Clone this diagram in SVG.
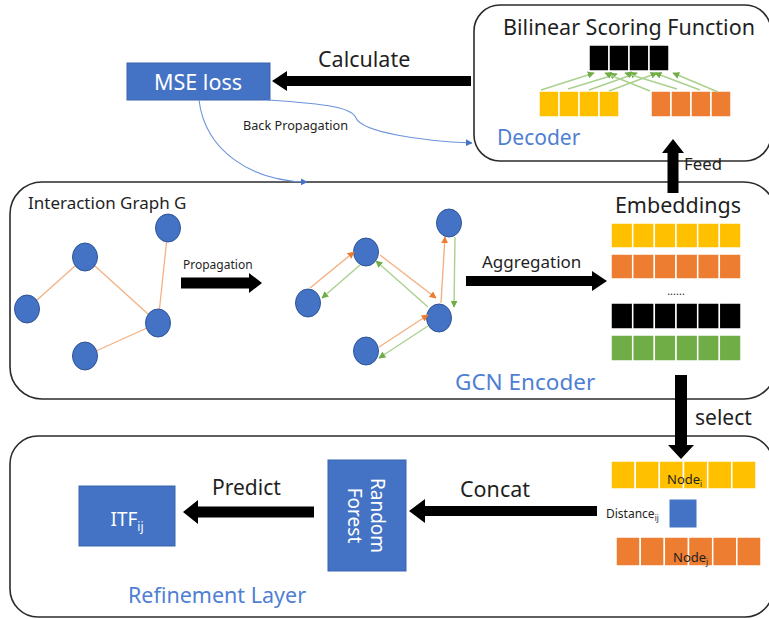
<svg xmlns="http://www.w3.org/2000/svg" width="769" height="619" viewBox="0 0 769 619">
<style>
.frame{fill:none;stroke:#2b2b2b;stroke-width:1.6}
.lbl{font-family:"Noto Sans","Liberation Sans",sans-serif;fill:#1f1f1f}
.blue{font-family:"Noto Sans","Liberation Sans",sans-serif;fill:#4F7FD3}
.wt{font-family:"Noto Sans","Liberation Sans",sans-serif;fill:#ffffff}
.bigarrow{fill:#000}
.node{fill:#4472C4;stroke:#2F5597;stroke-width:1}
.edge{stroke:#F4B183;stroke-width:1.3;fill:none}
.oa{stroke:#F4B183;stroke-width:1.4;fill:none;marker-end:url(#mo)}
.ga{stroke:#A9D18E;stroke-width:1.4;fill:none;marker-end:url(#mg)}
.bl{stroke:#6A94DA;stroke-width:1.1;fill:none;marker-end:url(#mb)}
.y{fill:#FFC000;stroke:#fff;stroke-width:1.5}
.o{fill:#ED7D31;stroke:#fff;stroke-width:1.5}
.k{fill:#000;stroke:#fff;stroke-width:1.5}
.g{fill:#70AD47;stroke:#fff;stroke-width:1.5}
.bx{fill:#4472C4;stroke:#3A64B0;stroke-width:1}
</style>
<defs>
<marker id="mo" viewBox="0 0 10 10" refX="9" refY="5" markerWidth="7" markerHeight="7" orient="auto" markerUnits="userSpaceOnUse"><path d="M0,0 L10,5 L0,10 z" fill="#ED7D31"/></marker>
<marker id="mg" viewBox="0 0 10 10" refX="9" refY="5" markerWidth="7" markerHeight="7" orient="auto" markerUnits="userSpaceOnUse"><path d="M0,0 L10,5 L0,10 z" fill="#70AD47"/></marker>
<marker id="mb" viewBox="0 0 10 10" refX="9" refY="5" markerWidth="7" markerHeight="7" orient="auto" markerUnits="userSpaceOnUse"><path d="M0,0 L10,5 L0,10 z" fill="#4472C4"/></marker>
</defs>
<rect width="769" height="619" fill="#fff"/>

<!-- Decoder -->
<g id="decoder">
<rect class="frame" x="474" y="5" width="297" height="156" rx="26"/>
<text class="lbl" x="629" y="35" font-size="21.5" text-anchor="middle">Bilinear Scoring Function</text>
<g>
<rect class="k" x="589" y="45" width="20" height="26"/><rect class="k" x="609" y="45" width="20" height="26"/><rect class="k" x="629" y="45" width="20" height="26"/><rect class="k" x="649" y="45" width="20" height="26"/>
<rect class="y" x="539" y="91" width="20" height="26"/><rect class="y" x="559" y="91" width="20" height="26"/><rect class="y" x="579" y="91" width="20" height="26"/><rect class="y" x="599" y="91" width="20" height="26"/>
<rect class="o" x="651" y="91" width="20" height="26"/><rect class="o" x="671" y="91" width="20" height="26"/><rect class="o" x="691" y="91" width="20" height="26"/><rect class="o" x="711" y="91" width="20" height="26"/>
</g>
<g>
<path class="ga" d="M541,90 L594,73" stroke-width="1"/>
<path class="ga" d="M568,89 L617,74" stroke-width="1"/>
<path class="ga" d="M589,90 L637,73" stroke-width="1"/>
<path class="ga" d="M609,91 L657,73" stroke-width="1"/>
<path class="ga" d="M718,92 L673,73" stroke-width="1"/>
<path class="ga" d="M700,90 L655,73" stroke-width="1"/>
<path class="ga" d="M677,89 L625,73" stroke-width="1"/>
<path class="ga" d="M650,91 L605,73" stroke-width="1"/>
</g>
<text class="blue" x="497" y="145" font-size="21">Decoder</text>
</g>

<!-- MSE loss -->
<g id="mse">
<rect class="bx" x="127" y="63" width="143" height="37"/>
<text class="wt" x="198" y="89.5" font-size="21.5" text-anchor="middle">MSE loss</text>
</g>

<!-- GCN Encoder -->
<g id="encoder">
<rect class="frame" x="10" y="182" width="766" height="217" rx="32"/>
<text class="lbl" x="28" y="209" font-size="17" fill="#333">Interaction Graph G</text>
<text class="blue" x="455" y="390" font-size="22.5">GCN Encoder</text>
</g>

<g id="graph1">
<line class="edge" x1="27" y1="309" x2="85" y2="257"/>
<line class="edge" x1="85" y1="257" x2="158" y2="323"/>
<line class="edge" x1="158" y1="323" x2="168" y2="228"/>
<line class="edge" x1="158" y1="323" x2="85" y2="356"/>
<ellipse class="node" cx="168" cy="228" rx="12.5" ry="14"/>
<ellipse class="node" cx="85" cy="257" rx="12.5" ry="14"/>
<ellipse class="node" cx="27" cy="309" rx="12.5" ry="14"/>
<ellipse class="node" cx="158" cy="323" rx="12.5" ry="14"/>
<ellipse class="node" cx="85" cy="356" rx="12.5" ry="14"/>
</g>

<g id="graph2">
<ellipse class="node" cx="449" cy="223" rx="12.5" ry="14"/>
<ellipse class="node" cx="366" cy="252" rx="12.5" ry="14"/>
<ellipse class="node" cx="308" cy="303" rx="12.5" ry="14"/>
<ellipse class="node" cx="439" cy="318" rx="12.5" ry="14"/>
<ellipse class="node" cx="366" cy="351" rx="12.5" ry="14"/>
</g>

<!-- Embeddings -->
<g id="embeddings">
<text class="lbl" x="678" y="213" font-size="21.5" text-anchor="middle">Embeddings</text>
<g>
<rect class="y" x="611" y="223" width="21.7" height="25"/><rect class="y" x="632.7" y="223" width="21.7" height="25"/><rect class="y" x="654.3" y="223" width="21.7" height="25"/><rect class="y" x="676" y="223" width="21.7" height="25"/><rect class="y" x="697.7" y="223" width="21.7" height="25"/><rect class="y" x="719.3" y="223" width="21.7" height="25"/>
<rect class="o" x="611" y="254" width="21.7" height="25"/><rect class="o" x="632.7" y="254" width="21.7" height="25"/><rect class="o" x="654.3" y="254" width="21.7" height="25"/><rect class="o" x="676" y="254" width="21.7" height="25"/><rect class="o" x="697.7" y="254" width="21.7" height="25"/><rect class="o" x="719.3" y="254" width="21.7" height="25"/>
<rect class="k" x="611" y="303" width="21.7" height="26"/><rect class="k" x="632.7" y="303" width="21.7" height="26"/><rect class="k" x="654.3" y="303" width="21.7" height="26"/><rect class="k" x="676" y="303" width="21.7" height="26"/><rect class="k" x="697.7" y="303" width="21.7" height="26"/><rect class="k" x="719.3" y="303" width="21.7" height="26"/>
<rect class="g" x="611" y="335" width="21.7" height="26"/><rect class="g" x="632.7" y="335" width="21.7" height="26"/><rect class="g" x="654.3" y="335" width="21.7" height="26"/><rect class="g" x="676" y="335" width="21.7" height="26"/><rect class="g" x="697.7" y="335" width="21.7" height="26"/><rect class="g" x="719.3" y="335" width="21.7" height="26"/>
</g>
<text class="lbl" x="676" y="295" font-size="11" text-anchor="middle" fill="#555">......</text>
</g>

<!-- Refinement Layer -->
<g id="refinement">
<rect class="frame" x="10" y="436" width="763" height="181" rx="28"/>
<text class="blue" x="128" y="603" font-size="21.5">Refinement Layer</text>
</g>

<g id="itf">
<rect class="bx" x="79" y="486" width="96" height="60"/>
<text class="wt" x="127" y="526" font-size="19" text-anchor="middle">ITF<tspan font-size="12" dy="5">ij</tspan></text>
</g>

<g id="rf">
<rect class="bx" x="328" y="460" width="78" height="111"/>
<text class="wt" font-size="19" text-anchor="middle" transform="translate(367,515.5) rotate(90)"><tspan x="0" y="-4">Random</tspan><tspan x="0" y="19">Forest</tspan></text>
</g>

<g id="nodepair">
<rect class="y" x="611" y="461" width="24.2" height="28"/><rect class="y" x="635.2" y="461" width="24.2" height="28"/><rect class="y" x="659.3" y="461" width="24.2" height="28"/><rect class="y" x="683.5" y="461" width="24.2" height="28"/><rect class="y" x="707.7" y="461" width="24.2" height="28"/><rect class="y" x="731.8" y="461" width="24.2" height="28"/>
<text class="lbl" x="667" y="484" font-size="13">Node<tspan font-size="8" dy="3">i</tspan></text>
<text class="lbl" x="606" y="518" font-size="12" fill="#333">Distance<tspan font-size="8" dy="3">ij</tspan></text>
<rect x="669" y="499" width="28" height="29" fill="#4472C4" stroke="#fff" stroke-width="1"/>
<rect class="o" x="616" y="537" width="24.2" height="29"/><rect class="o" x="640.2" y="537" width="24.2" height="29"/><rect class="o" x="664.3" y="537" width="24.2" height="29"/><rect class="o" x="688.5" y="537" width="24.2" height="29"/><rect class="o" x="712.7" y="537" width="24.2" height="29"/><rect class="o" x="736.8" y="537" width="24.2" height="29"/>
<text class="lbl" x="673" y="562" font-size="13">Node<tspan font-size="8" dy="3">j</tspan></text>
</g>

<!-- Connectors -->
<g id="connectors">
<polygon class="bigarrow" points="471,76 287,76 287,71 272,81 287,91 287,86 471,86"/>
<text class="lbl" x="318" y="67" font-size="21.5">Calculate</text>
<path class="bl" d="M268,100 C330,104 352,108 356,118 C362,132 420,141 472,143"/>
<text class="lbl" x="243" y="130" font-size="12.7" fill="#333">Back Propagation</text>
<path class="bl" d="M199,100 C205,150 250,181 307,182"/>

<polygon class="bigarrow" points="181,277.5 249,277.5 249,273 262,283 249,293 249,288.5 181,288.5"/>
<text class="lbl" x="183" y="269" font-size="12" fill="#333">Propagation</text>

<path class="oa" d="M310,288 L354,252"/>
<path class="ga" d="M360,265 L322,298"/>
<path class="oa" d="M380,255 L436,298"/>
<path class="ga" d="M428,307 L376,261"/>
<path class="oa" d="M441,303 L445,237"/>
<path class="ga" d="M455,237 L454,307"/>
<path class="oa" d="M379,347 L428,315"/>
<path class="ga" d="M428,326 L379,358"/>

<polygon class="bigarrow" points="466,276 592,276 592,271 607,281 592,291 592,286 466,286"/>
<text class="lbl" x="482" y="268" font-size="17">Aggregation</text>

<polygon class="bigarrow" points="667.5,193 667.5,153 662,153 673,139 684,153 678.5,153 678.5,193"/>
<text class="lbl" x="684" y="170" font-size="16.8">Feed</text>

<polygon class="bigarrow" points="675,375 687,375 687,445 694,445 681,459 668,445 675,445"/>
<text class="lbl" x="695" y="425" font-size="21">select</text>

<polygon class="bigarrow" points="597,506 425,506 425,499 409,511 425,523 425,516 597,516"/>
<text class="lbl" x="460" y="497" font-size="21.5">Concat</text>

<polygon class="bigarrow" points="314,506.5 198,506.5 198,500 183,512 198,524 198,517.5 314,517.5"/>
<text class="lbl" x="212" y="495" font-size="21">Predict</text>
</g>
</svg>
